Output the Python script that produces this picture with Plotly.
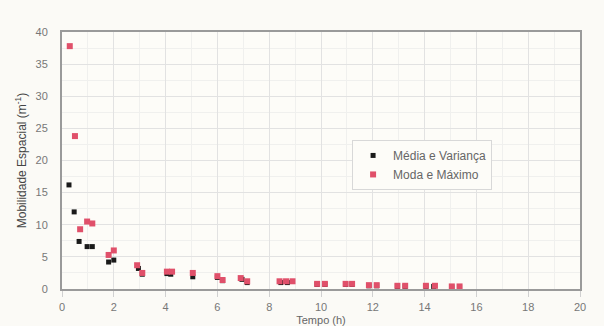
import plotly.graph_objects as go

# Média e Variança
t_media = [0.27, 0.47, 0.66, 0.97, 1.17, 1.8, 2.0, 2.95, 3.1, 4.05, 4.2, 5.05, 6.0, 6.2, 6.95, 7.15,
           8.45, 8.7, 9.85, 10.15, 10.95, 11.2, 11.85, 12.15, 12.95, 13.25, 14.05, 14.35, 15.05, 15.35]
m_media = [16.2, 12.0, 7.4, 6.6, 6.6, 4.2, 4.5, 3.2, 2.3, 2.4, 2.3, 1.9, 1.8, 1.3, 1.5, 1.0,
           1.0, 1.0, 0.7, 0.7, 0.7, 0.7, 0.5, 0.5, 0.4, 0.4, 0.4, 0.4, 0.3, 0.3]

# Moda e Máximo
t_moda = [0.3, 0.5, 0.7, 0.97, 1.17, 1.8, 2.0, 2.9, 3.1, 4.05, 4.25, 5.05, 6.0, 6.2, 6.9, 7.15,
          8.4, 8.65, 8.9, 9.85, 10.15, 10.95, 11.2, 11.85, 12.15, 12.95, 13.25, 14.05, 14.4, 15.05, 15.35]
m_moda = [37.8, 23.8, 9.3, 10.5, 10.2, 5.3, 6.0, 3.7, 2.5, 2.7, 2.7, 2.5, 2.0, 1.4, 1.7, 1.2,
          1.2, 1.2, 1.2, 0.8, 0.8, 0.8, 0.8, 0.6, 0.6, 0.5, 0.5, 0.5, 0.5, 0.4, 0.4]

x_ticks = [0, 2, 4, 6, 8, 10, 12, 14, 16, 18, 20]
y_ticks = [0, 5, 10, 15, 20, 25, 30, 35, 40]

BG = "#fbfaf6"
FONT = "Liberation Sans, Arial"

fig = go.Figure()
fig.add_trace(go.Scatter(
    x=t_media, y=m_media, mode="markers", name="Média e Variança",
    marker=dict(symbol="square", size=5, color="#1a1a1a"),
))
fig.add_trace(go.Scatter(
    x=t_moda, y=m_moda, mode="markers", name="Moda e Máximo",
    marker=dict(symbol="square", size=6, color="#e0506a"),
))

axis_common = dict(
    showline=True, linecolor="#9a9a9a", linewidth=2, mirror=True,
    showgrid=True, gridcolor="#e2e2e2", gridwidth=1,
    zeroline=False, automargin=False,
    tickfont=dict(family=FONT, size=11, color="#777777"),
)

fig.update_xaxes(
    range=[0, 20], tickvals=x_ticks,
    ticks="outside", ticklen=6, tickcolor="#d0d0d0", tickwidth=1,
    ticklabelstandoff=1,
    minor=dict(dtick=1, showgrid=True, gridcolor="#f0f0ee", gridwidth=1),
    title=dict(text="Tempo (h)", standoff=9,
               font=dict(family=FONT, size=11, color="#666666")),
    **axis_common,
)
fig.update_yaxes(
    range=[0, 40], tickvals=y_ticks,
    ticks="", ticklabelstandoff=10,
    minor=dict(dtick=2.5, showgrid=True, gridcolor="#f0f0ee", gridwidth=1),
    title=dict(text="Mobilidade Espacial (m<sup>-1</sup>)", standoff=6,
               font=dict(family=FONT, size=12, color="#444444")),
    **axis_common,
)

fig.update_layout(
    width=604, height=326,
    margin=dict(l=62, r=24, t=32, b=37),
    paper_bgcolor=BG, plot_bgcolor="#fdfcf8",
    showlegend=True,
    legend=dict(
        x=0.56, y=0.58, xanchor="left", yanchor="top",
        bgcolor="#fdfcf8", bordercolor="#d8d8d8", borderwidth=1,
        font=dict(family=FONT, size=12, color="#666666"),
        itemsizing="trace", itemwidth=30,
    ),
)

fig.write_html("out.html")
